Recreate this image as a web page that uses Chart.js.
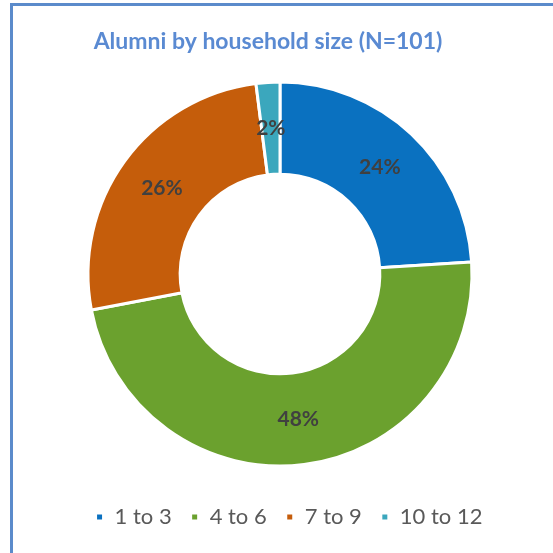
<!DOCTYPE html>
<html>
<head>
<meta charset="utf-8">
<script src="https://cdn.jsdelivr.net/npm/chart.js@4.4.1/dist/chart.umd.min.js"></script>
<style>
    html, body { margin: 0; padding: 0; background: #ffffff; }
    #wrap { position: relative; width: 553px; height: 553px; }
    #frame {
        position: absolute; left: 10px; top: 3px; right: 0; bottom: 0;
        border-left: 3px solid #5b8bcb; border-top: 3px solid #5b8bcb;
        pointer-events: none;
    }
    canvas { position: absolute; left: 0; top: 0; }
</style>
</head>
<body>
<div id="wrap">
    <canvas id="chart" width="553" height="553"></canvas>
    <div id="frame"></div>
</div>
<script>
const categories = ['1 to 3', '4 to 6', '7 to 9', '10 to 12'];
const shares = [24, 48, 26, 2];
const sliceColors = ['#0a71c0', '#6ba12e', '#c55d0b', '#3ba7bd'];
const chartTitle = 'Alumni by household size (N=101)';

const fontFamily = "Lato, 'Open Sans', 'Liberation Sans', sans-serif";

// title sits a little left of the ring's centre, so it is drawn by hand
const titlePlugin = {
    id: 'titlePlugin',
    afterDraw(chart) {
        const ctx = chart.ctx;
        ctx.save();
        ctx.font = 'bold 23px ' + fontFamily;
        ctx.fillStyle = '#5a8ad2';
        ctx.textAlign = 'center';
        ctx.textBaseline = 'middle';
        ctx.fillText(chartTitle, 268, 42);
        ctx.restore();
    }
};

// legend is centred a bit right of the ring
const legendShift = {
    id: 'legendShift',
    afterLayout(chart) {
        chart.legend.left += 9;
        chart.legend.right += 9;
    }
};

// draws the percentage label in the middle of each ring segment
const sliceLabels = {
    id: 'sliceLabels',
    afterDatasetsDraw(chart) {
        const ctx = chart.ctx;
        const meta = chart.getDatasetMeta(0);
        ctx.save();
        ctx.font = 'bold 21px ' + fontFamily;
        ctx.fillStyle = '#404040';
        ctx.textAlign = 'center';
        ctx.textBaseline = 'middle';
        meta.data.forEach((arc, i) => {
            const pos = arc.tooltipPosition();
            ctx.fillText(shares[i] + '%', pos.x, pos.y);
        });
        ctx.restore();
    }
};

new Chart(document.getElementById('chart'), {
    type: 'doughnut',
    data: {
        labels: categories,
        datasets: [{
            data: shares,
            backgroundColor: sliceColors,
            borderColor: '#ffffff',
            borderWidth: 3,
            radius: 192,
            cutout: '52%'
        }]
    },
    options: {
        responsive: false,
        animation: false,
        layout: { padding: { left: 7, right: 0, top: 61, bottom: 15 } },
        plugins: {
            title: { display: false },
            legend: {
                position: 'bottom',
                labels: {
                    color: '#595959',
                    font: { family: fontFamily, size: 22 },
                    boxWidth: 8,
                    boxHeight: 8,
                    padding: 19
                }
            },
            tooltip: { enabled: false }
        }
    },
    plugins: [sliceLabels, titlePlugin, legendShift]
});
</script>
</body>
</html>
